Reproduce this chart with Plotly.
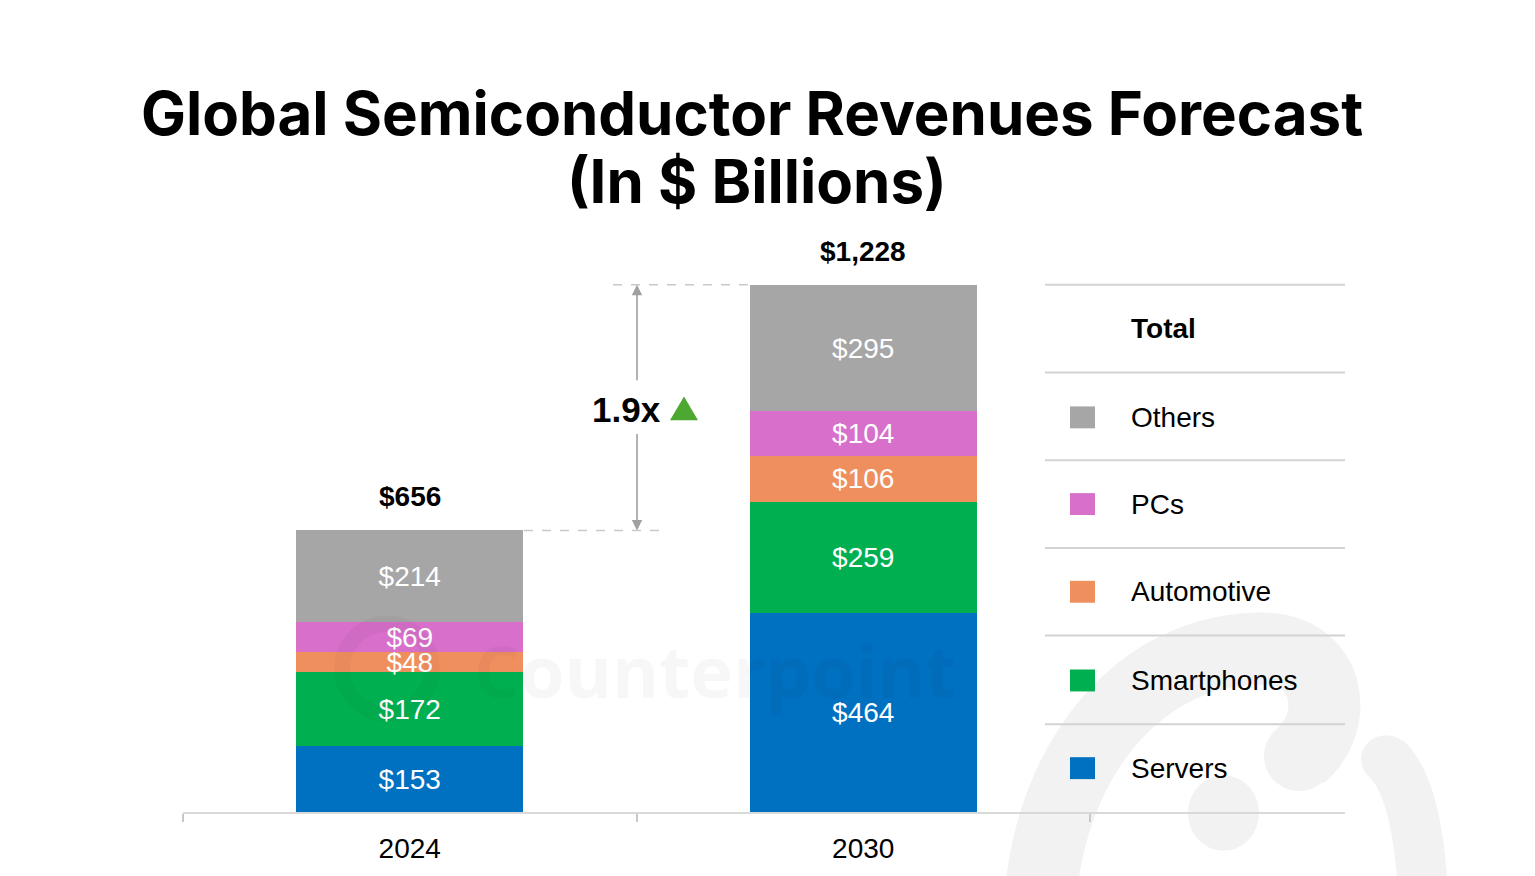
import plotly.graph_objects as go

# ---------------- data ----------------
years = ["2024", "2030"]
segments = ["Servers", "Smartphones", "Automotive", "PCs", "Others"]
servers = [153, 464]
smartphones = [172, 259]
automotive = [48, 106]
pcs = [69, 104]
others = [214, 295]
totals = [656, 1228]
growth_label = "1.9x"
legend_order = ["Others", "PCs", "Automotive", "Smartphones", "Servers"]
title_lines = ["Global Semiconductor Revenues Forecast", "(In $ Billions)"]

colors = {
    "Servers": "#0070C0",
    "Smartphones": "#00B050",
    "Automotive": "#F08F5E",
    "PCs": "#D76FCB",
    "Others": "#A6A6A6",
}
values = {
    "Servers": servers,
    "Smartphones": smartphones,
    "Automotive": automotive,
    "PCs": pcs,
    "Others": others,
}

# ---------------- layout geometry ----------------
W, H = 1535, 876
L, R, T, B = 183, 190, 240, 62
PW = W - L - R          # plot width in px
PH = H - T - B          # plot height in px
cat_px = 453.5
px_per_unit = 529 / 1228.0
x_range = [-0.5, -0.5 + PW / cat_px]
y_range = [0, PH / px_per_unit]

FONT = "Arial, Liberation Sans, sans-serif"
FS = 28


def px(x):
    return (x - L) / PW


def py(y):
    return (H - B - y) / PH


def P(x, y):
    return f"{px(x):.5f},{py(y):.5f}"


fig = go.Figure()

for seg in segments:
    vals = values[seg]
    fig.add_trace(go.Bar(
        x=years, y=vals, name=seg,
        marker=dict(color=colors[seg], line=dict(width=0)),
        width=0.5,
        text=[f"${v}" for v in vals],
        textposition="inside",
        insidetextanchor="middle",
        textangle=0,
        textfont=dict(color="white", size=FS, family=FONT),
        hoverinfo="skip",
        showlegend=False,
    ))

shapes = []
annotations = []

# ---- title (two lines placed separately) ----
annotations.append(dict(xref="paper", yref="paper", x=px(752), y=py(113),
                        text=f"<b>{title_lines[0]}</b>", showarrow=False,
                        xanchor="center", yanchor="middle",
                        font=dict(family="Inter", size=60, color="black")))
annotations.append(dict(xref="paper", yref="paper", x=px(757), y=py(181),
                        text=f"<b>{title_lines[1]}</b>", showarrow=False,
                        xanchor="center", yanchor="middle",
                        font=dict(family="Inter", size=60, color="black")))

# ---- background logo (faint) ----
logo_col = "#F2F2F2"
shapes.append(dict(type="path", xref="paper", yref="paper", layer="below",
                   path=f"M {P(1040, 905)} C {P(1050, 760)} {P(1140, 650)} {P(1262, 650)} "
                        f"C {P(1330, 650)} {P(1342, 722)} {P(1300, 758)}",
                   line=dict(color=logo_col, width=72), fillcolor="rgba(0,0,0,0)"))
shapes.append(dict(type="circle", xref="paper", yref="paper", layer="below",
                   x0=px(1264), x1=px(1334), y0=py(793), y1=py(723),
                   line=dict(width=0), fillcolor=logo_col))
shapes.append(dict(type="circle", xref="paper", yref="paper", layer="below",
                   x0=px(1188), x1=px(1259), y0=py(853), y1=py(777),
                   line=dict(width=0), fillcolor=logo_col))
shapes.append(dict(type="path", xref="paper", yref="paper", layer="below",
                   path=f"M {P(1386, 760)} C {P(1412, 785)} {P(1420, 840)} {P(1424, 905)}",
                   line=dict(color=logo_col, width=50), fillcolor="rgba(0,0,0,0)"))
shapes.append(dict(type="circle", xref="paper", yref="paper", layer="below",
                   x0=px(1361), x1=px(1411), y0=py(785), y1=py(737),
                   line=dict(width=0), fillcolor=logo_col))

# faint watermark ring + text
shapes.append(dict(type="circle", xref="paper", yref="paper", layer="above",
                   x0=px(342), x1=px(432), y0=py(715), y1=py(625),
                   line=dict(color="rgba(0,0,0,0.03)", width=16), fillcolor="rgba(0,0,0,0)"))
annotations.append(dict(xref="paper", yref="paper", x=px(715), y=py(672),
                        text="<b>Counterpoint</b>", showarrow=False,
                        font=dict(size=72, color="rgba(0,0,0,0.03)", family="Open Sans"),
                        xanchor="center", yanchor="middle"))

# ---- dashed guide lines at totals ----
shapes.append(dict(type="line", xref="paper", yref="y", x0=px(613), x1=px(750),
                   y0=totals[1], y1=totals[1],
                   line=dict(color="#C9C9C9", width=1.5, dash="dash")))
shapes.append(dict(type="line", xref="paper", yref="y", x0=px(524), x1=px(668),
                   y0=totals[0], y1=totals[0],
                   line=dict(color="#C9C9C9", width=1.5, dash="dash")))

# ---- growth arrows ----
annotations.append(dict(xref="paper", yref="y", x=px(637), y=totals[1], ax=0, ay=97,
                        text="", showarrow=True, arrowhead=2, arrowsize=1.3, arrowwidth=1.6,
                        arrowcolor="#A0A0A0", standoff=0))
annotations.append(dict(xref="paper", yref="y", x=px(637), y=totals[0], ax=0, ay=-98,
                        text="", showarrow=True, arrowhead=2, arrowsize=1.3, arrowwidth=1.6,
                        arrowcolor="#A0A0A0", standoff=0))
annotations.append(dict(xref="paper", yref="paper", x=px(626), y=py(410),
                        text=f"<b>{growth_label}</b>", showarrow=False,
                        font=dict(size=35, color="black", family=FONT),
                        xanchor="center", yanchor="middle"))
shapes.append(dict(type="path", xref="paper", yref="paper",
                   path=f"M {P(670, 421)} L {P(698, 421)} L {P(684, 397)} Z",
                   line=dict(width=0), fillcolor="#4CA831"))

# ---- totals above bars (x given as category index) ----
for i, tot in enumerate(totals):
    annotations.append(dict(x=i, y=tot, xref="x", yref="y", text=f"<b>${tot:,}</b>",
                            showarrow=False, yanchor="bottom", yshift=16,
                            font=dict(size=FS, color="black", family=FONT)))

# ---- legend table ----
line_ys = [285, 373, 461, 549, 637, 726]
for ly in line_ys:
    shapes.append(dict(type="line", xref="paper", yref="paper", x0=px(1045), x1=px(1345),
                       y0=py(ly), y1=py(ly), line=dict(color="#D3D3D3", width=2)))
annotations.append(dict(xref="paper", yref="paper", x=px(1129), y=py(329),
                        text="<b>Total</b>", showarrow=False, xanchor="left", yanchor="middle",
                        font=dict(size=FS, color="black", family=FONT)))
row_centers = [418, 505, 593, 682, 770]
for name, cy in zip(legend_order, row_centers):
    shapes.append(dict(type="rect", xref="paper", yref="paper",
                       x0=px(1070), x1=px(1095), y0=py(cy - 11), y1=py(cy + 11),
                       line=dict(width=0), fillcolor=colors[name]))
    annotations.append(dict(xref="paper", yref="paper", x=px(1129), y=py(cy),
                            text=name, showarrow=False, xanchor="left", yanchor="middle",
                            font=dict(size=FS, color="black", family=FONT)))

fig.update_layout(
    width=W, height=H,
    margin=dict(l=L, r=R, t=T, b=B, pad=0),
    paper_bgcolor="white", plot_bgcolor="rgba(0,0,0,0)",
    barmode="stack",
    bargap=0.5,
    uniformtext=dict(minsize=FS, mode="show"),
    xaxis=dict(
        type="category", categoryorder="array", categoryarray=years,
        range=x_range, showgrid=False, zeroline=False,
        showline=True, linecolor="#D9D9D9", linewidth=2,
        ticks="outside", tickson="boundaries", ticklen=8, tickcolor="#C8C8C8", tickwidth=1.5,
        ticklabelstandoff=10,
        tickfont=dict(size=FS, color="black", family=FONT),
        fixedrange=True,
    ),
    yaxis=dict(range=y_range, visible=False, showgrid=False, zeroline=False, fixedrange=True),
    shapes=shapes,
    annotations=annotations,
    showlegend=False,
)

fig.write_html("out.html")
